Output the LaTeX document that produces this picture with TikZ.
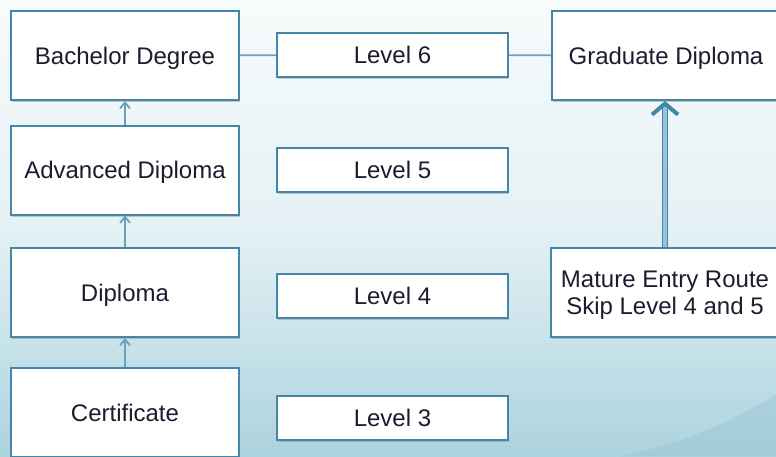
\documentclass[tikz,border=0pt]{standalone}
\usepackage{fontspec}
\setmainfont{Liberation Sans}
\usetikzlibrary{arrows.meta,shadows}
\definecolor{edge}{RGB}{68,134,165}
\definecolor{link}{RGB}{105,162,188}
\definecolor{pipe}{RGB}{150,196,214}
\definecolor{bgtop}{RGB}{247,251,252}
\definecolor{bgbot}{RGB}{172,211,222}
\definecolor{txt}{RGB}{32,26,48}

\begin{document}
\begin{tikzpicture}[
        x={(0.5pt,0pt)},
        y={(0pt,-0.5pt)},
        box/.style={rectangle, draw=edge, line width=1pt, fill=white, text=txt,
          minimum width=114pt, minimum height=44.5pt, align=center, text depth=0pt,
          font=\fontsize{12}{13.5}\selectfont,
          drop shadow={shadow xshift=0.6pt, shadow yshift=-1.2pt, opacity=.4}},
        lvl/.style={box, minimum width=115.5pt, minimum height=22pt},
        up/.style={-{Straight Barb[length=3pt,width=5pt]}, line width=0.9pt, link},
        route/.style={draw=edge, line width=0.6pt, double=pipe, double distance=1.6pt,
          -{Straight Barb[length=5.5pt,width=13pt,line width=2pt]}},
        tie/.style={line width=0.9pt, link},
        ]

        \useasboundingbox (0,0) rectangle (776,456);
        \clip (0,0) rectangle (776,456);
        \fill[top color=bgtop, bottom color=bgbot, middle color=bgtop!75!bgbot]
          (0,0) rectangle (776,456);
        \fill[bgbot!80!edge, opacity=.45] (620,456) .. controls (700,440) and (740,415) .. (776,395)
          -- (776,456) -- cycle;

        \node(bach)[box] at (125,55.5){Bachelor Degree};
        \node(adv)[box] at (125,170){Advanced Diploma};
        \node(dip)[box] at (125,292.5){Diploma};
        \node(cert)[box] at (125,412.5){Certificate};

        \node(lvl6)[lvl] at (392.5,55){Level 6};
        \node(lvl5)[lvl] at (392.5,169.5){Level 5};
        \node(lvl4)[lvl] at (392.5,295.5){Level 4};
        \node(lvl3)[lvl] at (392.5,417.5){Level 3};

        \node(grad)[box] at (666,55.5){Graduate Diploma};
        \node(mature)[box] at (665,292.5){Mature Entry Route\\Skip Level 4 and 5};

        \draw[up](cert)--(dip);
        \draw[up](dip)--(adv);
        \draw[up](adv)--(bach);

        \draw[tie](bach)--(lvl6);
        \draw[tie](lvl6)--(grad);

        \draw[route](mature.north)--(mature.north |- grad.south);

      \end{tikzpicture}
\end{document}
